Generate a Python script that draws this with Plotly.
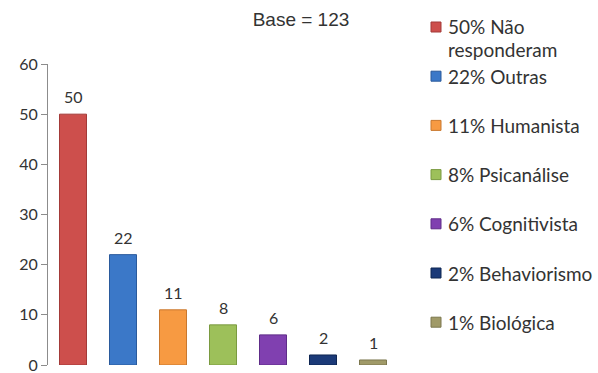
import plotly.graph_objects as go

# Theoretical approach reported by respondents (n = 123)
categories = ["Não responderam", "Outras", "Humanista", "Psicanálise",
              "Cognitivista", "Behaviorismo", "Biológica"]
values = [50, 22, 11, 8, 6, 2, 1]
legend_labels = ["50% Não<br>responderam", "22% Outras", "11% Humanista",
                 "8% Psicanálise", "6% Cognitivista", "2% Behaviorismo",
                 "1% Biológica"]
colors = ["#CD4F4C", "#3B78C8", "#F79A42", "#9DC05A", "#8040B0", "#1B3A78", "#A09A68"]
edge_colors = ["#A33A38", "#2A5A9C", "#C9782E", "#7A9A40", "#5E2C88", "#0F2652", "#7C774E"]
y_ticks = [0, 10, 20, 30, 40, 50, 60]

W, H = 598, 373
M = dict(l=48, r=200, t=64, b=8)
PW, PH = W - M["l"] - M["r"], H - M["t"] - M["b"]


def px_x(x):
    return (x - M["l"]) / PW


def px_y(y):
    return (H - M["b"] - y) / PH


label_font = dict(family="Lato, Open Sans, sans-serif", size=16, color="#333333")
legend_font = dict(family="Lato, Open Sans, sans-serif", size=19, color="#333333")

fig = go.Figure()
for cat, val, col, edge in zip(categories, values, colors, edge_colors):
    fig.add_trace(go.Bar(
        x=[cat], y=[val], name=cat, width=0.54,
        marker=dict(color=col, line=dict(color=edge, width=1)),
        showlegend=False,
    ))
    fig.add_annotation(
        x=cat, y=val, text=str(val), showarrow=False,
        yanchor="bottom", yshift=6, font=label_font,
    )

# Legend column: swatch plus label, one row per category
row_top, row_step, line_step = 27, 49.2, 23
sq_x0, sq_size, text_x = 431, 10, 446
for i, (label, col, edge) in enumerate(zip(legend_labels, colors, edge_colors)):
    yc = row_top + i * row_step
    fig.add_shape(
        type="rect", xref="paper", yref="paper",
        x0=px_x(sq_x0), x1=px_x(sq_x0 + sq_size),
        y0=px_y(yc + sq_size / 2), y1=px_y(yc - sq_size / 2),
        fillcolor=col, line=dict(color=edge, width=1),
    )
    for k, line in enumerate(label.split("<br>")):
        fig.add_annotation(
            xref="paper", yref="paper", x=px_x(text_x), y=px_y(yc + k * line_step),
            xanchor="left", yanchor="middle", text=line, showarrow=False,
            font=legend_font,
        )

fig.update_layout(
    width=W, height=H,
    margin=dict(M, autoexpand=False),
    paper_bgcolor="white", plot_bgcolor="white",
    barmode="overlay",
    showlegend=False,
    title=dict(text="Base = 123", xref="container", x=301 / W, xanchor="center",
               yref="container", y=1 - 19 / H, yanchor="middle",
               font=dict(family="Liberation Sans, Arial, sans-serif", size=19, color="#333333")),
    xaxis=dict(showticklabels=False, showline=False, ticks="", showgrid=False,
               range=[-0.5, len(categories) - 0.5], automargin=False),
    yaxis=dict(range=[0, 60], tickvals=y_ticks, ticks="outside", ticklen=6,
               tickcolor="#8C8C8C", showline=True, linecolor="#8C8C8C", linewidth=1,
               showgrid=False, zeroline=False, tickfont=label_font,
               ticklabeloverflow="allow", automargin=False),
)

fig.write_html("out.html")
